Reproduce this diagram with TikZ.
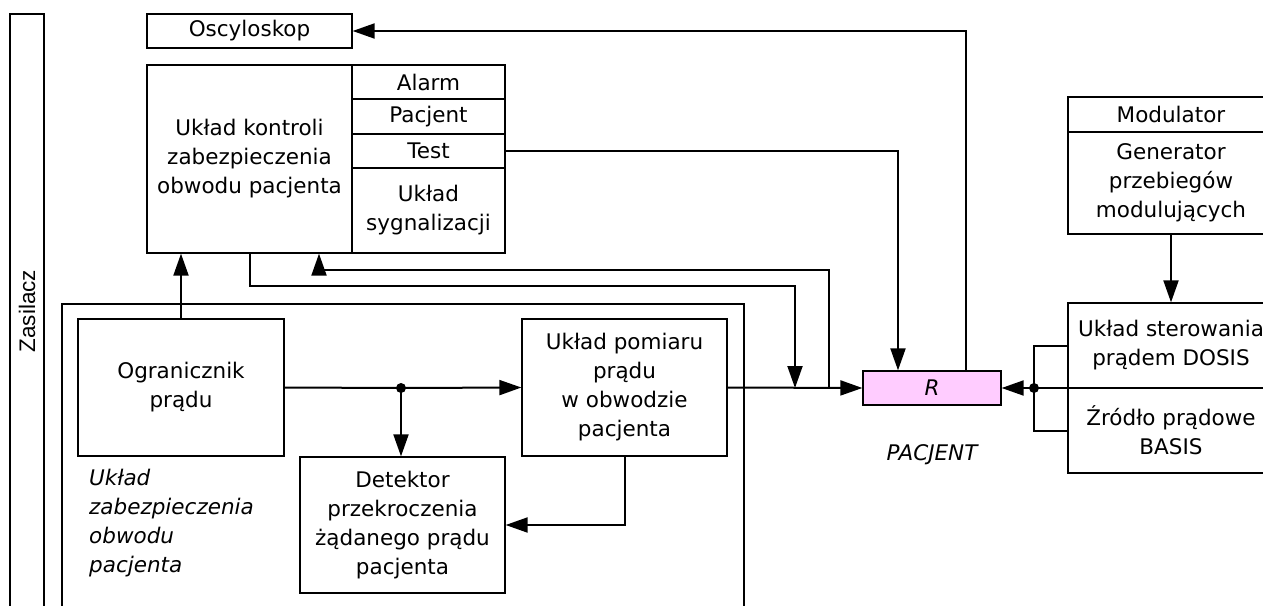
\documentclass[tikz,border=0pt]{standalone}
\usepackage{fontspec}
\setmainfont{DejaVu Sans}
\newfontfamily\zasfont{Liberation Sans}
\usetikzlibrary{arrows.meta}
\tikzstyle{blok} = [rectangle, draw, line width=1.3pt, inner sep=0pt,
    align=center, font=\fontsize{21.5}{29}\selectfont]
\tikzstyle{line} = [draw, line width=2pt, -{Triangle[length=22pt,width=15pt]}]
\tikzstyle{wire} = [draw, line width=2pt]
\tikzstyle{dot} = [circle, fill, inner sep=0pt, minimum size=10pt]

\begin{document}
\begin{tikzpicture}[x=1pt, y=-1pt]
    \clip (0,0) rectangle (1263,605);
    \node [blok, minimum width=594pt, minimum height=34pt, rotate=90,
        font=\zasfont\fontsize{22.5}{26}\selectfont] at (27,311) (zasilacz) {Zasilacz};
    \node [blok, minimum width=205pt, minimum height=34pt] at (249.5,31) (osc) {Oscyloskop};
    \node [blok, minimum width=205pt, minimum height=188pt] at (249.5,159) (kontrola)
        {Układ kontroli\\zabezpieczenia\\obwodu pacjenta};
    \node [blok, minimum width=153pt, minimum height=34pt] at (428.5,82) (alarm) {Alarm};
    \node [blok, minimum width=153pt, minimum height=35pt] at (428.5,116.5) (pacjent) {Pacjent};
    \node [blok, minimum width=153pt, minimum height=34pt] at (428.5,151) (test) {Test};
    \node [blok, minimum width=153pt, minimum height=85pt] at (428.5,210.5) (sygnal)
        {Układ\\sygnalizacji};

    % ramka ukladu zabezpieczenia
    \draw [line width=2pt] (62,610) -- (62,304) -- (744,304) -- (744,610);
    \node [blok, minimum width=206pt, minimum height=137pt] at (181,387.5) (ogr)
        {Ogranicznik\\prądu};
    \node [blok, minimum width=205pt, minimum height=137pt] at (624.5,387.5) (pomiar)
        {Układ pomiaru\\prądu\\w obwodzie\\pacjenta};
    \node [blok, minimum width=205pt, minimum height=136pt] at (402.5,525) (detektor)
        {Detektor\\przekroczenia\\żądanego prądu\\pacjenta};
    \node [align=left, anchor=north west, inner sep=0pt,
        font=\itshape\fontsize{21.5}{29}\selectfont] at (89,469) (opis)
        {Układ\\zabezpieczenia\\obwodu\\pacjenta};

    \node [blok, fill={rgb,255:red,255;green,204;blue,255}, minimum width=138pt,
        minimum height=34pt, font=\itshape\fontsize{21.5}{29}\selectfont] at (932,388) (R) {R};
    \node [font=\itshape\fontsize{21.5}{29}\selectfont] at (932,455) (etykieta) {PACJENT};

    \node [blok, minimum width=206pt, minimum height=35pt] at (1171,114.5) (modulator) {Modulator};
    \node [blok, minimum width=206pt, minimum height=102pt] at (1171,183) (generator)
        {Generator\\przebiegów\\modulujących};
    \node [blok, minimum width=206pt, minimum height=85pt] at (1171,345.5) (sterowanie)
        {Układ sterowania\\prądem DOSIS};
    \node [blok, minimum width=206pt, minimum height=85pt] at (1171,430.5) (zrodlo)
        {Źródło prądowe\\BASIS};

    \coordinate (w1) at (401,388);
    \coordinate (w2) at (1034,388);
    \coordinate (k1) at (795,388);
    \coordinate (k1g) at (795,286);
    \coordinate (k2) at (829,388);
    \coordinate (k2g) at (319,270);

    \path [line] (ogr.north) -- (ogr.north |- kontrola.south);
    \path [wire] (ogr.east) -- (w1);
    \path [line] (w1) -- (pomiar.west);
    \path [line] (w1) -- (w1 |- detektor.north);
    \node [dot] at (w1) {};
    \path [line] (pomiar.south) |- (detektor.east);
    \path [line] (pomiar.east) -- (R.west);
    \path [line] (kontrola.south) |- (k1g) -- (k1);
    \path [line] (k2) |- (k2g) -- (k2g |- kontrola.south);
    \path [line] (test.east) -| ([xshift=-34pt]R.north);
    \path [line] ([xshift=34pt]R.north) |- (osc.east);
    \path [line] (generator.south) -- (sterowanie.north);
    \path [wire] (sterowanie.west) -| (w2) |- (zrodlo.west);
    \path [wire] (w2) -- (w2 -| sterowanie.west);
    \path [line] (w2) -- (R.east);
    \node [dot] at (w2) {};
\end{tikzpicture}
\end{document}
